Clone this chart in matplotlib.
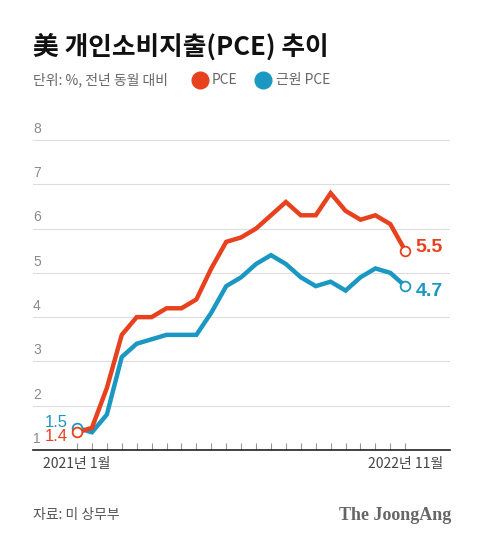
import numpy as np
import matplotlib.pyplot as plt
import matplotlib.transforms as mtransforms

plt.rcParams['font.family'] = ['Noto Sans CJK KR', 'DejaVu Sans']

# 2021-01 .. 2022-11, 전년 동월 대비 (%)
months = list(range(23))
pce = [1.4, 1.5, 2.4, 3.6, 4.0, 4.0, 4.2, 4.2, 4.4, 5.1, 5.7, 5.8,
       6.0, 6.3, 6.6, 6.3, 6.3, 6.8, 6.4, 6.2, 6.3, 6.1, 5.5]
core = [1.5, 1.4, 1.8, 3.1, 3.4, 3.5, 3.6, 3.6, 3.6, 4.1, 4.7, 4.9,
        5.2, 5.4, 5.2, 4.9, 4.7, 4.8, 4.6, 4.9, 5.1, 5.0, 4.7]
yticks = [1, 2, 3, 4, 5, 6, 7, 8]
xlabels = {0: "2021년 1월", 22: "2022년 11월"}

RED = "#e8411d"
BLUE = "#1b98c2"

fig = plt.figure(figsize=(4.8, 5.46), dpi=100)
ax = fig.add_axes([33 / 480, 1 - 450 / 546, 417 / 480, 310 / 546])
ax.set_xlim(-2.95, 25)
ax.set_ylim(1, 8)

for s in ["top", "right", "left"]:
    ax.spines[s].set_visible(False)
ax.spines["bottom"].set_color("#222222")
ax.spines["bottom"].set_linewidth(1.2)

for v in yticks[1:]:
    ax.axhline(v, color="#dddddd", lw=0.8, zorder=0)
off = mtransforms.offset_copy(ax.transData, fig=fig, x=0, y=3, units="points")
for v in yticks:
    ax.text(-2.95, v, str(v), transform=off, ha="left", va="bottom",
            fontsize=10, color="#8a8a8a", family=["Liberation Sans"])

ax.set_yticks([])
ax.set_xticks(months)
ax.tick_params(axis="x", direction="in", length=5, width=0.8,
               color="#999999", labelbottom=False)

ax.plot(months, core, color=BLUE, lw=3.2, solid_joinstyle="miter", zorder=3)
ax.plot(months, pce, color=RED, lw=3.2, solid_joinstyle="miter", zorder=4)
for series, c in [(core, BLUE), (pce, RED)]:
    ax.plot([months[0], months[-1]], [series[0], series[-1]], "o", ms=7,
            mfc="white", mec=c, mew=1.3, zorder=5, clip_on=False)

# start / end labels
ax.text(months[0] - 0.6, core[0] + 0.12, f"{core[0]}", color=BLUE, fontsize=12,
        ha="right", va="center", family=["Liberation Sans"])
ax.text(months[0] - 0.6, pce[0] - 0.1, f"{pce[0]}", color=RED, fontsize=12,
        ha="right", va="center", family=["Liberation Sans"])
ax.text(months[-1] + 0.7, pce[-1] + 0.08, f"{pce[-1]}", color=RED, fontsize=14,
        fontweight="bold", ha="left", va="center", family=["Liberation Sans"])
ax.text(months[-1] + 0.7, core[-1] - 0.12, f"{core[-1]}", color=BLUE, fontsize=14,
        fontweight="bold", ha="left", va="center", family=["Liberation Sans"])

for i, lab in xlabels.items():
    ax.text(i, 1, lab, transform=mtransforms.offset_copy(ax.transData, fig=fig, x=0, y=-5, units="points"),
            ha="center", va="top", fontsize=10, color="#444444")

# title, subtitle, legend
fig.text(33 / 480, 1 - 47 / 546, "美 개인소비지출(PCE) 추이", fontsize=18.5,
         fontweight="black", color="#111111", ha="left", va="center")
fig.text(33 / 480, 1 - 80 / 546, "단위: %, 전년 동월 대비", fontsize=10,
         color="#666666", ha="left", va="center")
fig.lines.append(plt.Line2D([200 / 480], [1 - 80 / 546], marker="o", ms=12,
                            color=RED, transform=fig.transFigure))
fig.text(212 / 480, 1 - 80 / 546, "PCE", fontsize=10, color="#666666",
         ha="left", va="center")
fig.lines.append(plt.Line2D([263 / 480], [1 - 80 / 546], marker="o", ms=12,
                            color=BLUE, transform=fig.transFigure))
fig.text(276 / 480, 1 - 80 / 546, "근원 PCE", fontsize=10, color="#666666",
         ha="left", va="center")

# footer
fig.text(33 / 480, 1 - 515 / 546, "자료: 미 상무부", fontsize=10,
         color="#555555", ha="left", va="center")
fig.text(451 / 480, 1 - 515 / 546, "The JoongAng", fontsize=13,
         fontweight="bold", color="#666666", ha="right", va="center",
         family=["Liberation Serif"])

fig.savefig("out.png", dpi=100, facecolor="white")
